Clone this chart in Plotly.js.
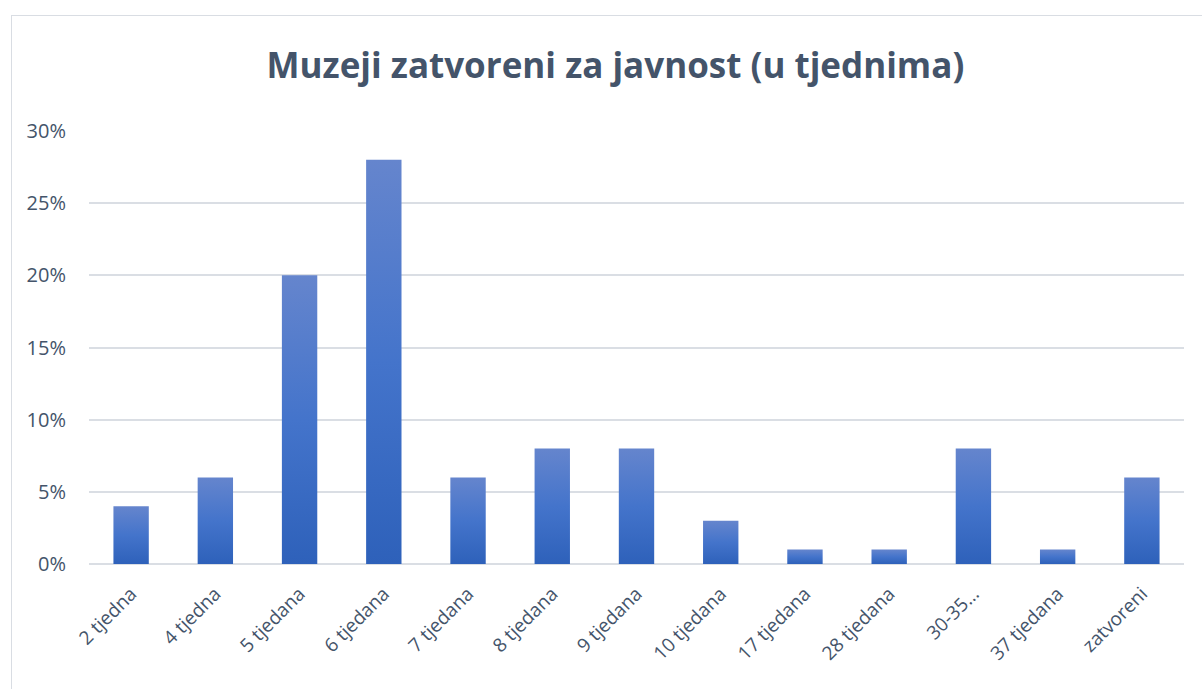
<!DOCTYPE html>
<html>
<head>
<meta charset="utf-8">
<script src="https://cdn.plot.ly/plotly-3.0.1.min.js"></script>
<style>
html,body{margin:0;padding:0;background:#fff;}
#wrap{position:relative;width:1202px;height:689px;overflow:hidden;}
#chart{position:absolute;left:0;top:0;width:1202px;height:689px;}
#frame{position:absolute;left:11px;top:15px;width:1200px;height:700px;border:1px solid #d9dde3;pointer-events:none;}
</style>
</head>
<body>
<div id="wrap"><div id="chart"></div><div id="frame"></div></div>
<script>
const categories = ["2 tjedna","4 tjedna","5 tjedana","6 tjedana","7 tjedana","8 tjedana","9 tjedana","10 tjedana","17 tjedana","28 tjedana","30-35…","37 tjedana","zatvoreni"];
const values = [0.04,0.06,0.20,0.28,0.06,0.08,0.08,0.03,0.01,0.01,0.08,0.01,0.06];
const yTicks = [0,0.05,0.10,0.15,0.20,0.25,0.30];
const yTickText = ["0%","5%","10%","15%","20%","25%","30%"];

const textColor = "#44546a";
const font = "Open Sans, Liberation Sans, sans-serif";

const trace = {
  type: "bar",
  x: categories,
  y: values,
  marker: {color: "#4472c4", line: {width: 0}},
  hoverinfo: "x+y"
};

const layout = {
  width: 1202, height: 689,
  margin: {l: 89, r: 18, t: 131, b: 125},
  paper_bgcolor: "rgba(0,0,0,0)",
  plot_bgcolor: "rgba(0,0,0,0)",
  bargap: 0.58,
  showlegend: false,
  title: {
    text: "<b>Muzeji zatvoreni za javnost (u tjednima)</b>",
    font: {family: font, size: 35, color: textColor},
    x: 0.512, xanchor: "center", y: 0.905, yanchor: "middle"
  },
  xaxis: {
    type: "category",
    tickangle: -45,
    tickfont: {family: font, size: 19, color: textColor},
    showgrid: false, zeroline: false, showline: false, ticks: "",
    ticklabelstandoff: 14
  },
  yaxis: {
    range: [0, 0.30],
    tickvals: yTicks, ticktext: yTickText,
    tickfont: {family: font, size: 20, color: textColor},
    showgrid: true, gridcolor: "#dadee4", gridwidth: 2,
    zeroline: true, zerolinecolor: "#dadee4", zerolinewidth: 2,
    showline: false, ticks: "", ticklabelstandoff: 22
  }
};

Plotly.newPlot("chart", [trace], layout, {displayModeBar: false, staticPlot: true}).then(function(gd){
  const svg = gd.querySelector("svg.main-svg");
  const ns = "http://www.w3.org/2000/svg";
  let defs = svg.querySelector("defs");
  if (!defs) { defs = document.createElementNS(ns, "defs"); svg.insertBefore(defs, svg.firstChild); }
  const lg = document.createElementNS(ns, "linearGradient");
  lg.setAttribute("id", "barGrad");
  lg.setAttribute("x1", "0"); lg.setAttribute("y1", "0");
  lg.setAttribute("x2", "0"); lg.setAttribute("y2", "1");
  [["0", "#6585cd"], ["0.5", "#4474cb"], ["1", "#2e61ba"]].forEach(function(s){
    const st = document.createElementNS(ns, "stop");
    st.setAttribute("offset", s[0]); st.setAttribute("stop-color", s[1]);
    lg.appendChild(st);
  });
  defs.appendChild(lg);
  gd.querySelectorAll(".bars .point path").forEach(function(p){
    p.style.fill = "url(#barGrad)";
  });
});
</script>
</body>
</html>
